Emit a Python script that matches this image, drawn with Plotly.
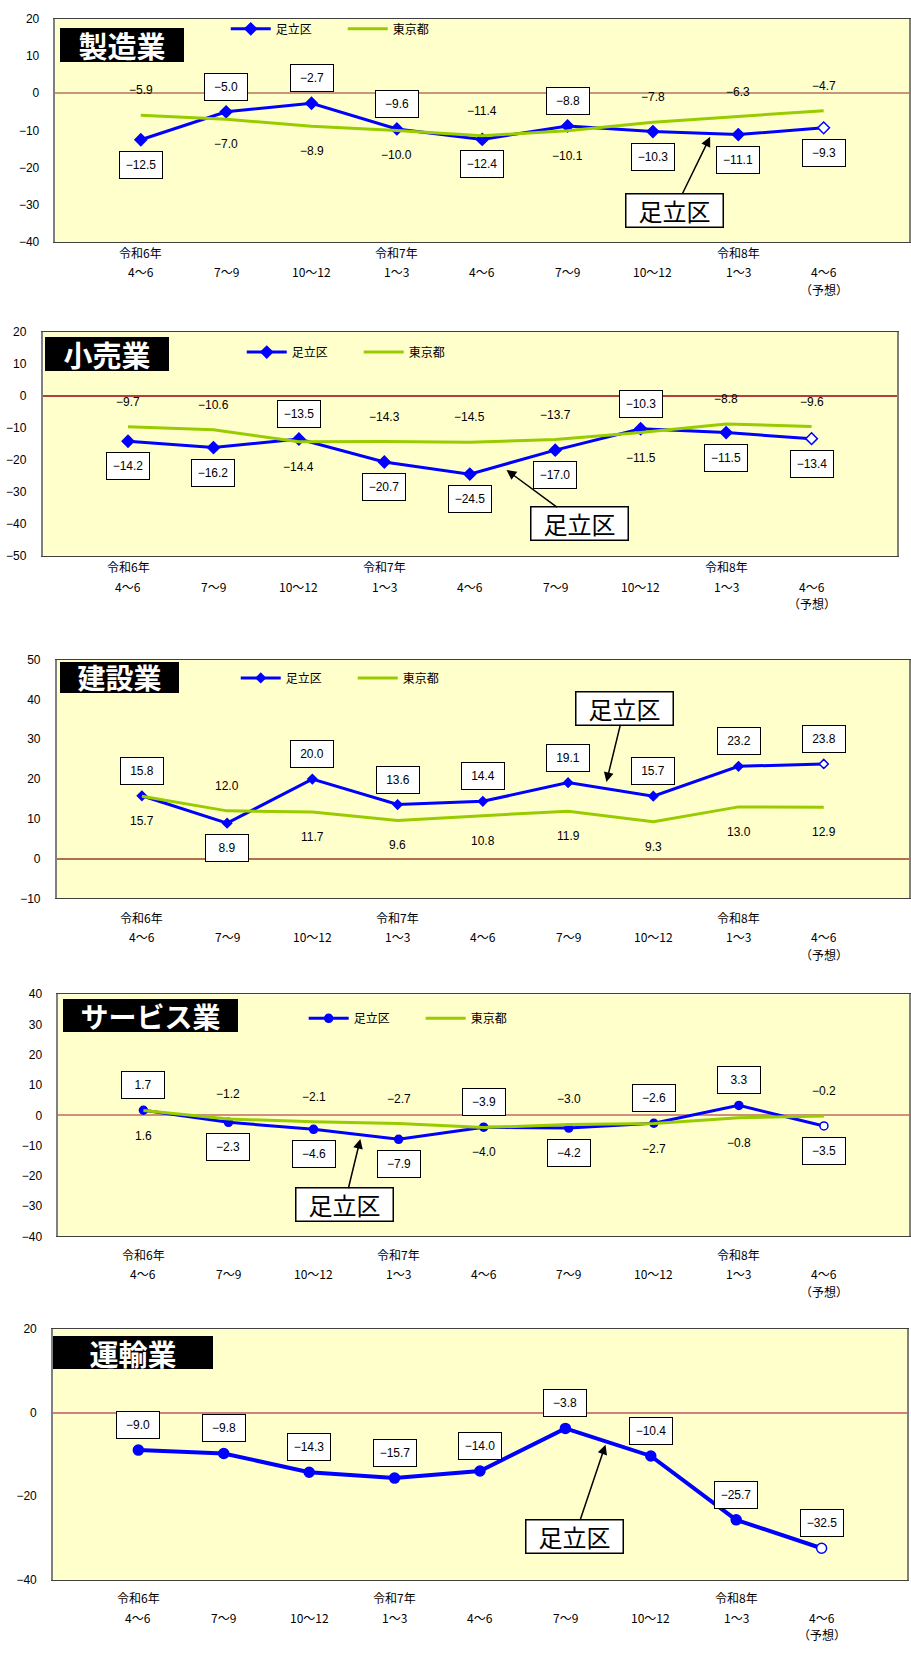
import plotly.graph_objects as go

# ---------------- data ----------------
quarters = ["4～6", "7～9", "10～12", "1～3", "4～6", "7～9", "10～12", "1～3", "4～6"]
years = ["令和6年", "", "", "令和7年", "", "", "", "令和8年", ""]
notes = ["", "", "", "", "", "", "", "", "（予想）"]
series_names = ["足立区", "東京都"]

mfg_adachi = [-12.5, -5.0, -2.7, -9.6, -12.4, -8.8, -10.3, -11.1, -9.3]
mfg_tokyo = [-5.9, -7.0, -8.9, -10.0, -11.4, -10.1, -7.8, -6.3, -4.7]

ret_adachi = [-14.2, -16.2, -13.5, -20.7, -24.5, -17.0, -10.3, -11.5, -13.4]
ret_tokyo = [-9.7, -10.6, -14.4, -14.3, -14.5, -13.7, -11.5, -8.8, -9.6]

con_adachi = [15.8, 8.9, 20.0, 13.6, 14.4, 19.1, 15.7, 23.2, 23.8]
con_tokyo = [15.7, 12.0, 11.7, 9.6, 10.8, 11.9, 9.3, 13.0, 12.9]

svc_adachi = [1.7, -2.3, -4.6, -7.9, -3.9, -4.2, -2.6, 3.3, -3.5]
svc_tokyo = [1.6, -1.2, -2.1, -2.7, -4.0, -3.0, -2.7, -0.8, -0.2]

trn_adachi = [-9.0, -9.8, -14.3, -15.7, -14.0, -3.8, -10.4, -25.7, -32.5]

# ---------------- layout config ----------------
W, H = 911, 1653
BLUE = "#0000FF"
GREEN = "#99CC00"
FONT = "Arial, 'Liberation Sans', 'Noto Sans CJK JP', sans-serif"
JFONT = "'Noto Sans CJK JP', sans-serif"

panels = [
    dict(title="製造業", adachi=mfg_adachi, tokyo=mfg_tokyo, yr=[-40, 20], dt=10,
         px=(55.5, 910), py=(11.7, 237.3), sym="diamond", msize=9, lw=3, zc="#C8967A",
         tbox=(60, 184, 21, 55), tsize=29, leg=(226, 22), call=(6.67, -11.7, -36, 74), xoff=10),
    dict(title="小売業", adachi=ret_adachi, tokyo=ret_tokyo, yr=[-50, 20], dt=10,
         px=(42.6, 898), py=(327.7, 553.3), sym="diamond", msize=9, lw=3, zc="#B04040",
         tbox=(45, 169, 332.7, 366.7), tsize=29, leg=(242, 348), call=(4.43, -23.2, 73, 54), xoff=11),
    dict(title="建設業", adachi=con_adachi, tokyo=con_tokyo, yr=[-10, 50], dt=10,
         px=(56.7, 910), py=(658.3, 899), sym="diamond", msize=7, lw=3, zc="#B07050",
         tbox=(60, 179, 661, 691.7), tsize=28, leg=(236, 676.7), call=(5.45, 19.24, 18, -74), xoff=19),
    dict(title="サービス業", adachi=svc_adachi, tokyo=svc_tokyo, yr=[-40, 40], dt=10,
         px=(58.4, 910), py=(995.7, 1240), sym="circle", msize=8, lw=3, zc="#D09080",
         tbox=(63, 238, 1000, 1033), tsize=28, leg=(304, 1020), call=(2.55, -7.8, -16, 66), xoff=18),
    dict(title="運輸業", adachi=trn_adachi, tokyo=None, yr=[-40, 20], dt=20,
         px=(53, 908), py=(1333.3, 1586), sym="circle", msize=10, lw=4, zc="#D08080",
         tbox=(53, 213, 1340.7, 1374), tsize=29, leg=None, call=(5.47, -7.7, -31, 92), xoff=18),
]


def fmt(v):
    s = f"{abs(v):.1f}"
    return ("−" + s) if v < 0 else s


fig = go.Figure()
layout = dict(width=W, height=H, margin=dict(l=0, r=0, t=0, b=0),
              paper_bgcolor="white", plot_bgcolor="#FFFFCC", showlegend=True,
              font=dict(family=FONT, size=12, color="black"))
annotations = []
xs = list(range(len(quarters)))

for k, p in enumerate(panels):
    n = "" if k == 0 else str(k + 1)
    xref, yref = "x" + n, "y" + n
    legname = "legend" + n
    x0, x1 = p["px"]
    y0, y1 = p["py"]
    layout["xaxis" + n] = dict(domain=[x0 / W, x1 / W], range=[-1, 9], anchor=yref,
                               tickmode="array", tickvals=xs, ticktext=quarters,
                               showticklabels=False,
                               showgrid=False, zeroline=False, showline=True, mirror=True,
                               linecolor="#404040", linewidth=1.2, ticks="")
    layout["yaxis" + n] = dict(domain=[1 - y1 / H, 1 - y0 / H], range=p["yr"], dtick=p["dt"],
                               anchor=xref, showgrid=False, zeroline=True,
                               zerolinecolor=p["zc"], zerolinewidth=1.5,
                               showline=True, mirror=True, linecolor="#808080", linewidth=1.5,
                               ticks="", ticklabelstandoff=12,
                               tickfont=dict(family=FONT, size=12, color="black"))

    ad = p["adachi"]
    tk = p["tokyo"]
    mcolors = [BLUE] * (len(ad) - 1) + ["white"]
    fig.add_trace(go.Scatter(
        x=xs, y=ad, name=series_names[0], mode="lines+markers",
        line=dict(color=BLUE, width=p["lw"]),
        marker=dict(symbol=p["sym"], size=p["msize"], color=mcolors,
                    line=dict(color=BLUE, width=1.5)),
        xaxis=xref, yaxis=yref, legend=legname, showlegend=p["leg"] is not None))
    if tk is not None:
        fig.add_trace(go.Scatter(
            x=xs, y=tk, name=series_names[1], mode="lines",
            line=dict(color=GREEN, width=3),
            xaxis=xref, yaxis=yref, legend=legname, showlegend=True))

    if p["leg"] is not None:
        lx, ly = p["leg"]
        layout[legname] = dict(x=lx / W, y=1 - ly / H, xanchor="left", yanchor="middle",
                               orientation="h", bgcolor="rgba(0,0,0,0)", visible=True,
                               font=dict(family=JFONT, size=12, color="black"),
                               itemwidth=40, entrywidth=62, entrywidthmode="pixels")

    # value labels
    for i, v in enumerate(ad):
        up = True if tk is None else v >= tk[i]
        annotations.append(dict(x=i, y=v, xref=xref, yref=yref, text=fmt(v), showarrow=False,
                                yshift=25 if up else -25, bgcolor="white",
                                bordercolor="black", borderwidth=1, borderpad=3,
                                width=36, height=20, font=dict(size=12, family=FONT)))
        if tk is not None:
            annotations.append(dict(x=i, y=tk[i], xref=xref, yref=yref, text=fmt(tk[i]),
                                    showarrow=False, yshift=-25 if up else 25,
                                    font=dict(size=12, family=FONT)))

    # category label rows under the axis
    for i in xs:
        rows = [(years[i], p["xoff"]), (quarters[i], p["xoff"] + 19.5), (notes[i], p["xoff"] + 37)]
        for txt, off in rows:
            if txt:
                annotations.append(dict(x=i, y=0, xref=xref, yref=yref + " domain", text=txt,
                                        showarrow=False, yanchor="middle", yshift=-off,
                                        font=dict(family=JFONT, size=12)))

    # title box
    bx0, bx1, by0, by1 = p["tbox"]
    annotations.append(dict(x=bx0 / W, y=1 - by0 / H, xref="paper", yref="paper",
                            xanchor="left", yanchor="top", text="<b>" + p["title"] + "</b>",
                            showarrow=False, bgcolor="black", borderpad=0, borderwidth=0,
                            width=bx1 - bx0, height=by1 - by0, align="center",
                            font=dict(family=JFONT, size=p["tsize"], color="white")))

    # callout
    hx, hy, ax, ay = p["call"]
    annotations.append(dict(x=hx, y=hy, xref=xref, yref=yref, text="足立区",
                            showarrow=True, ax=ax, ay=ay, axref="pixel", ayref="pixel",
                            arrowhead=2, arrowsize=1.3, arrowwidth=1.5, arrowcolor="black",
                            bgcolor="white", bordercolor="black", borderwidth=1.5,
                            borderpad=0, width=96, height=32,
                            font=dict(family=JFONT, size=24, color="black")))

layout["annotations"] = annotations
fig.update_layout(**layout)
fig.write_html("out.html")
